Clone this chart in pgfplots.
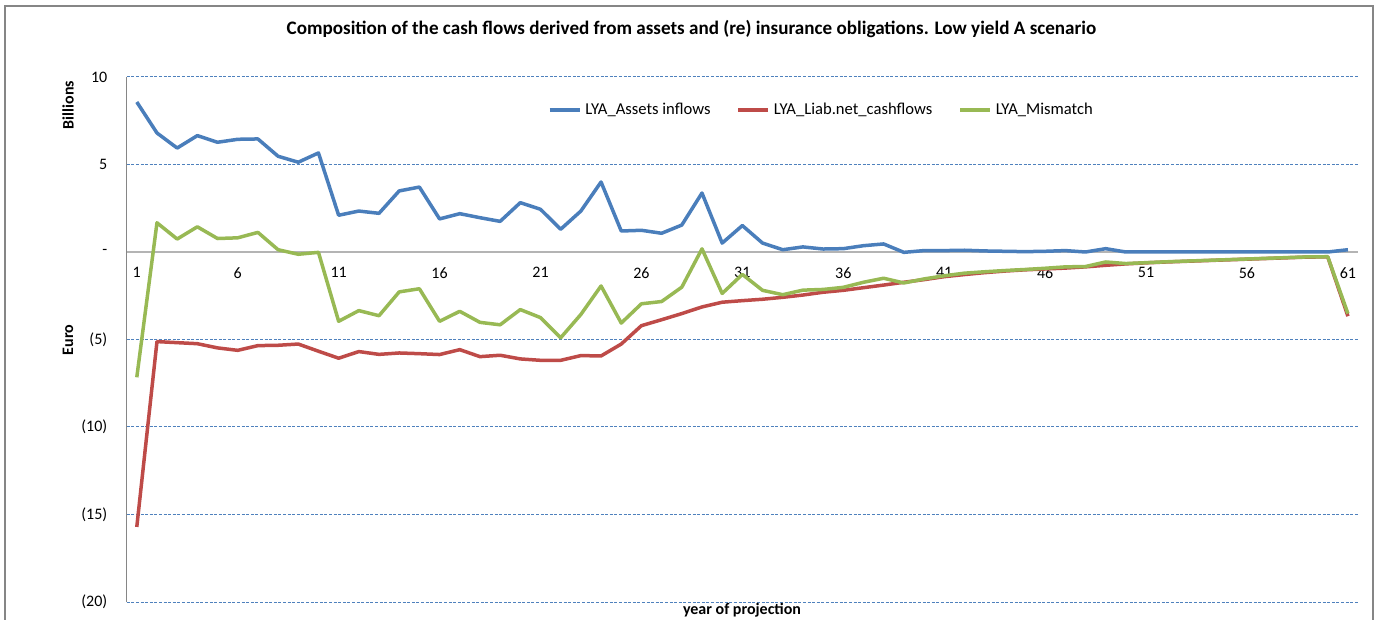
\documentclass[border=0pt]{standalone}
\usepackage{fontspec}
\setmainfont{Carlito}
\usepackage{pgfplots}
\pgfplotsset{compat=1.18}
\definecolor{cblue}{RGB}{74,126,187}
\definecolor{cred}{RGB}{190,75,72}
\definecolor{cgreen}{RGB}{152,185,84}
\definecolor{cgrid}{RGB}{79,129,189}
\definecolor{caxis}{RGB}{134,134,134}
\definecolor{czero}{RGB}{180,180,180}
\pgfplotstableread{
i A L M
1 8.57 -15.71 -7.16
2 6.80 -5.12 1.67
3 5.94 -5.18 0.74
4 6.65 -5.24 1.44
5 6.27 -5.48 0.77
6 6.44 -5.62 0.81
7 6.46 -5.35 1.12
8 5.47 -5.33 0.13
9 5.13 -5.26 -0.13
10 5.66 -5.67 -0.02
11 2.10 -6.07 -3.96
12 2.34 -5.69 -3.35
13 2.21 -5.85 -3.64
14 3.49 -5.77 -2.28
15 3.71 -5.81 -2.10
16 1.89 -5.86 -3.96
17 2.19 -5.58 -3.39
18 1.96 -5.98 -4.02
19 1.75 -5.90 -4.16
20 2.82 -6.11 -3.29
21 2.44 -6.19 -3.75
22 1.30 -6.19 -4.90
23 2.34 -5.92 -3.57
24 4.00 -5.94 -1.94
25 1.20 -5.26 -4.06
26 1.24 -4.21 -2.96
27 1.07 -3.87 -2.83
28 1.54 -3.52 -2.01
29 3.37 -3.14 0.18
30 0.51 -2.87 -2.37
31 1.51 -2.78 -1.28
32 0.51 -2.70 -2.19
33 0.13 -2.59 -2.44
34 0.29 -2.46 -2.18
35 0.17 -2.30 -2.14
36 0.19 -2.19 -2.02
37 0.36 -2.04 -1.73
38 0.46 -1.89 -1.50
39 -0.02 -1.73 -1.77
40 0.08 -1.58 -1.54
41 0.08 -1.41 -1.36
42 0.10 -1.29 -1.21
43 0.06 -1.18 -1.13
44 0.04 -1.09 -1.06
45 0.02 -1.02 -1.00
46 0.04 -0.97 -0.93
47 0.08 -0.92 -0.85
48 0.00 -0.85 -0.83
49 0.19 -0.76 -0.57
50 0.00 -0.68 -0.66
51 0.00 -0.62 -0.61
52 0.00 -0.57 -0.56
53 0.00 -0.53 -0.52
54 0.00 -0.49 -0.48
55 0.00 -0.45 -0.44
56 0.00 -0.41 -0.40
57 0.00 -0.37 -0.36
58 0.00 -0.33 -0.32
59 0.00 -0.29 -0.28
60 0.00 -0.28 -0.27
61 0.13 -3.67 -3.52
}\datatable
\newcommand{\tickfont}{\fontsize{8bp}{9.5bp}\selectfont}
\newcommand{\legfont}{\fontsize{8.3bp}{9.8bp}\selectfont}
\newcommand{\labfont}{\fontsize{8bp}{9.5bp}\selectfont\bfseries}
\begin{document}
\begin{tikzpicture}
\useasboundingbox (0,0) rectangle (690.5bp,310bp);
\draw[caxis, line width=0.6bp] (2.5bp,-5bp) rectangle (686.5bp,307bp);
\begin{axis}[
  at={(63.35bp,9bp)}, anchor=south west,
  scale only axis, width=615.65bp, height=262.5bp,
  xmin=0.5, xmax=61.5, ymin=-20, ymax=10,
  axis x line=middle, axis y line=left,
  hide obscured x ticks=false, hide obscured y ticks=false,
  y axis line style={-, caxis, line width=0.6bp},
  x axis line style={-, czero, line width=0.9bp},
  major tick length=0pt,
  xtick={1,6,11,16,21,26,31,36,41,46,51,56,61},
  xticklabels={1,6,11,16,21,26,31,36,41,46,51,56,61},
  ytick={-20,-15,-10,-5,0,5,10},
  yticklabels={(20),(15),(10),(5),-,5,10},
  xticklabel style={anchor=north, inner sep=0pt, yshift=-7.5bp, font=\tickfont},
  yticklabel style={anchor=east, inner sep=0pt, xshift=-9.5bp, font=\tickfont},
  ymajorgrids,
  major grid style={cgrid, line width=0.5bp, dash pattern=on 1.5bp off 0.8bp},
  legend style={draw=none, fill=none, at={(0.565,0.937)}, anchor=center, font=\legfont,
    legend columns=3, /tikz/every even column/.append style={column sep=11bp}},
  legend image code/.code={\draw[#1] (0bp,0bp) -- (15bp,0bp);},
  every axis plot/.append style={line width=1.75bp, line join=round, mark=none},
]
\addplot[cblue] table[x=i, y=A] {\datatable};
\addlegendentry{LYA\_Assets inflows}
\addplot[cred] table[x=i, y=L] {\datatable};
\addlegendentry{LYA\_Liab.net\_cashflows}
\addplot[cgreen] table[x=i, y=M] {\datatable};
\addlegendentry{LYA\_Mismatch}
\end{axis}
\node[font=\fontsize{9.55bp}{11bp}\selectfont\bfseries] at (345.75bp,295.5bp) {Composition of the cash flows derived from assets and (re) insurance obligations. Low yield A scenario};
\node[font=\labfont, rotate=90] at (34bp,257.5bp) {Billions};
\node[font=\labfont, rotate=90] at (34bp,140bp) {Euro};
\node[font=\labfont] at (371bp,4.7bp) {year of projection};
\end{tikzpicture}
\end{document}
